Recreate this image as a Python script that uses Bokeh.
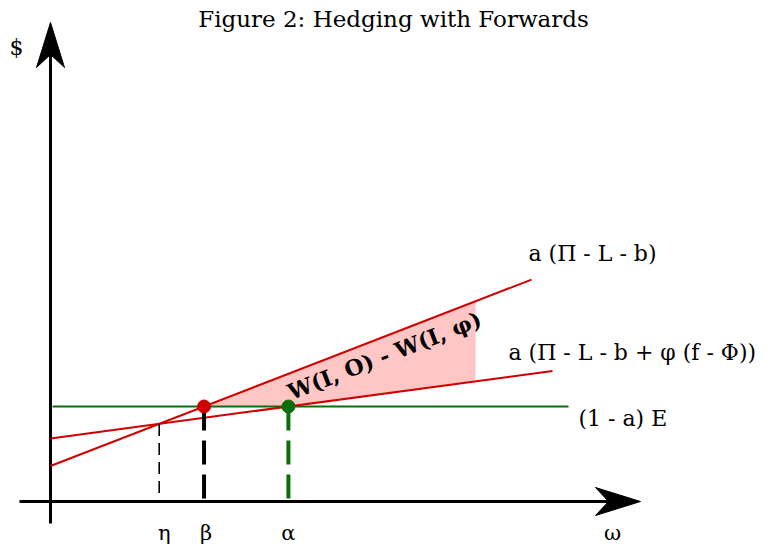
from bokeh.plotting import figure
from bokeh.models import Range1d
from bokeh.core.properties import value
from bokeh.embed import file_html
from bokeh.resources import INLINE

# --- model values (diagram units, origin at the axes' crossing) ---
E_level = 95.0                      # (1 - a) E
line1_intercept, line1_slope = 35.5, 0.3875   # a (Π - L - b)
line2_intercept, line2_slope = 63.0, 0.1345   # a (Π - L - b + φ (f - Φ))
line1_end, line2_end, flat_end = 481.0, 502.0, 518.0
shade_end = 425.0

tick_names = ["η", "β", "α"]
curve_labels = ["a (Π - L - b)", "a (Π - L - b + φ (f - Φ))", "(1 - a) E"]
gap_label = "W(I, O) - W(I, φ)"

# derived crossings
beta = (E_level - line1_intercept) / line1_slope
alpha = (E_level - line2_intercept) / line2_slope
eta = (line2_intercept - line1_intercept) / (line1_slope - line2_slope)
eta_y = line1_intercept + line1_slope * eta

def l1(x):
    return line1_intercept + line1_slope * x

def l2(x):
    return line2_intercept + line2_slope * x

RED = "#d00000"
GREEN = "#0a6e0a"
SERIF = value("DejaVu Serif")

p = figure(width=773, height=546, x_range=Range1d(-50, 723), y_range=Range1d(-45, 501),
           output_backend="svg", toolbar_location=None, min_border=0,
           x_axis_type=None, y_axis_type=None)
p.grid.visible = False
p.outline_line_color = None
p.background_fill_color = "white"
p.border_fill_color = "white"

# shaded gap between the two payoff lines
xs = [beta, alpha, shade_end]
p.varea(x=xs, y1=[max(E_level, l2(x)) for x in xs], y2=[l1(x) for x in xs],
        fill_color="#ffc6c6", fill_alpha=1.0)

# axes with arrowheads
x_lo, x_hi = -31.0, 590.0
y_lo, y_hi = -22.0, 479.0
head_len, head_notch, head_half = 45.0, 32.0, 14.0
p.line([x_lo, x_hi - head_notch], [0, 0], line_color="black", line_width=3)
p.line([0, 0], [y_lo, y_hi - head_notch], line_color="black", line_width=3)
p.patch([x_hi, x_hi - head_len, x_hi - head_notch, x_hi - head_len],
        [0, head_half, 0, -head_half], fill_color="black", line_color="black")
p.patch([0, head_half, 0, -head_half],
        [y_hi, y_hi - head_len, y_hi - head_notch, y_hi - head_len],
        fill_color="black", line_color="black")

# flat line and the two payoff lines
p.line([2, flat_end], [E_level, E_level], line_color=GREEN, line_width=2)
p.line([0, line1_end], [l1(0), l1(line1_end)], line_color=RED, line_width=2)
p.line([0, line2_end], [l2(0), l2(line2_end)], line_color=RED, line_width=2)

# drop lines to the horizontal axis
p.line([eta, eta], [eta_y, 0], line_color="black", line_width=1.6, line_dash="12 7")
p.line([beta, beta], [E_level, 0], line_color="black", line_width=4, line_dash="24 10")
p.line([alpha, alpha], [E_level, 0], line_color=GREEN, line_width=4, line_dash="24 10")

p.scatter([beta], [E_level], size=13, fill_color=RED, line_color=RED)
p.scatter([alpha], [E_level], size=13, fill_color=GREEN, line_color=GREEN)

# texts
p.text(x=[343], y=[483], text=["Figure 2: Hedging with Forwards"], text_font=SERIF,
       text_font_size="23px", text_align="center", text_baseline="middle", text_color="black")
p.text(x=[-34], y=[454], text=["$"], text_font=SERIF, text_font_size="22px",
       text_align="center", text_baseline="middle")
p.text(x=[eta + 5, beta + 2, alpha, 562], y=[-31, -31, -31, -31],
       text=tick_names + ["ω"], text_font=SERIF, text_font_size="21px",
       text_align="center", text_baseline="middle")
p.text(x=[478, 458, 528], y=[248, 149, 83], text=curve_labels, text_font=SERIF,
       text_font_size="22px", text_align="left", text_baseline="middle")
p.text(x=[334], y=[146], text=[gap_label], text_font=SERIF, text_font_size="22px",
       text_font_style="bold", angle=0.372, text_align="center", text_baseline="middle")

open("out.html", "w").write(file_html(p, INLINE))
